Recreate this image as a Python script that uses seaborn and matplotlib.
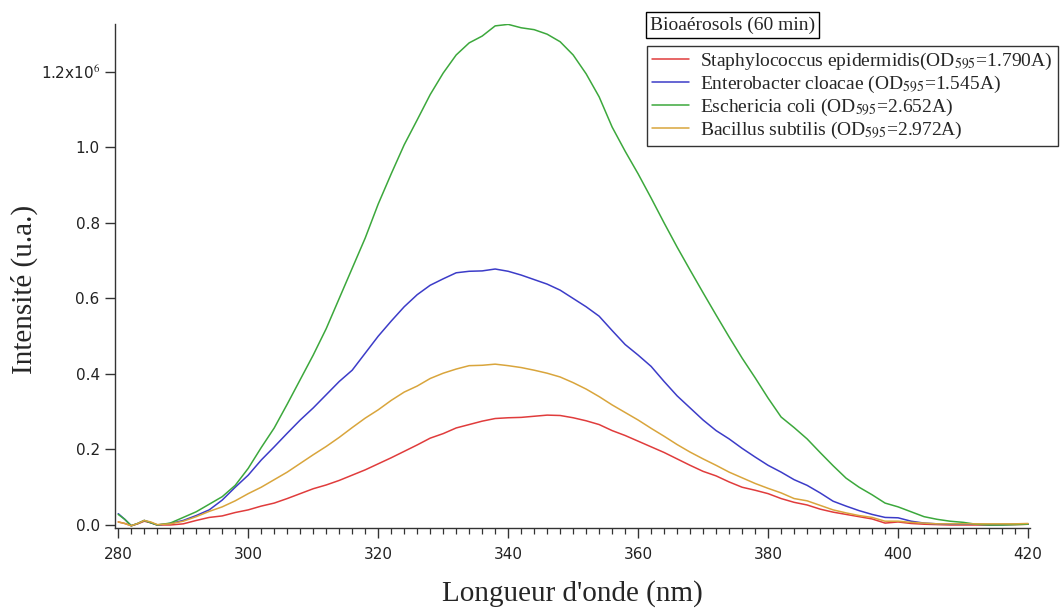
import numpy as np
import pandas as pd
import matplotlib
matplotlib.use("Agg")
import matplotlib.pyplot as plt
from matplotlib.ticker import FixedLocator, FixedFormatter, MultipleLocator
import seaborn as sns

# ---------------- data (intensity in units of 1e6) ----------------
wl = [280, 281, 282, 283, 284, 285, 286, 288, 290, 292, 294, 296, 298,
      300, 302, 304, 306, 308, 310, 312, 314, 316, 318, 320, 322, 324,
      326, 328, 330, 332, 334, 336, 338, 340, 342, 344, 346, 348, 350,
      352, 354, 356, 358, 360, 362, 364, 366, 368, 370, 372, 374, 376,
      378, 380, 382, 384, 386, 388, 390, 392, 394, 396, 398, 400, 402,
      404, 406, 408, 410, 412, 414, 416, 418, 420]

staph = [0.008, 0.004, -0.002, 0.003, 0.010, 0.006, 0.000, 0.000, 0.003, 0.012,
         0.020, 0.024, 0.033, 0.040, 0.050, 0.058, 0.070, 0.083, 0.096, 0.106,
         0.118, 0.132, 0.146, 0.162, 0.178, 0.195, 0.212, 0.230, 0.242, 0.257,
         0.266, 0.275, 0.282, 0.284, 0.285, 0.288, 0.291, 0.290, 0.284, 0.276,
         0.266, 0.250, 0.237, 0.222, 0.207, 0.192, 0.175, 0.158, 0.142, 0.130,
         0.114, 0.100, 0.092, 0.083, 0.070, 0.060, 0.053, 0.042, 0.034, 0.028,
         0.022, 0.016, 0.005, 0.008, 0.004, 0.002, 0.001, 0.000, 0.000, 0.000,
         0.000, 0.001, 0.001, 0.002]

entero = [0.030, 0.015, -0.002, 0.004, 0.012, 0.006, 0.000, 0.004, 0.012, 0.025,
          0.040, 0.066, 0.100, 0.132, 0.172, 0.207, 0.243, 0.278, 0.310, 0.345,
          0.380, 0.410, 0.455, 0.500, 0.540, 0.578, 0.610, 0.635, 0.652, 0.668,
          0.672, 0.673, 0.678, 0.672, 0.662, 0.650, 0.638, 0.622, 0.600, 0.578,
          0.553, 0.515, 0.478, 0.450, 0.420, 0.380, 0.342, 0.310, 0.278, 0.250,
          0.228, 0.203, 0.180, 0.158, 0.140, 0.120, 0.105, 0.085, 0.063, 0.050,
          0.038, 0.028, 0.020, 0.019, 0.010, 0.005, 0.003, 0.002, 0.002, 0.002,
          0.001, 0.001, 0.002, 0.002]

ecoli = [0.028, 0.015, -0.002, 0.004, 0.012, 0.006, 0.000, 0.005, 0.020, 0.035,
         0.055, 0.075, 0.105, 0.150, 0.205, 0.257, 0.320, 0.385, 0.450, 0.520,
         0.600, 0.680, 0.760, 0.850, 0.930, 1.007, 1.073, 1.140, 1.197, 1.245,
         1.277, 1.295, 1.322, 1.326, 1.317, 1.312, 1.300, 1.280, 1.245, 1.195,
         1.134, 1.054, 0.990, 0.930, 0.866, 0.800, 0.736, 0.675, 0.615, 0.556,
         0.498, 0.442, 0.390, 0.336, 0.286, 0.258, 0.228, 0.192, 0.157, 0.124,
         0.100, 0.080, 0.058, 0.048, 0.035, 0.022, 0.015, 0.010, 0.007, 0.002,
         0.000, 0.000, 0.001, 0.002]

bacillus = [0.008, 0.004, -0.002, 0.004, 0.012, 0.008, 0.001, 0.003, 0.010, 0.022,
            0.036, 0.048, 0.064, 0.083, 0.100, 0.120, 0.140, 0.163, 0.186, 0.208,
            0.232, 0.258, 0.283, 0.305, 0.330, 0.352, 0.368, 0.388, 0.402, 0.413,
            0.422, 0.423, 0.426, 0.422, 0.417, 0.410, 0.402, 0.392, 0.377, 0.360,
            0.340, 0.318, 0.298, 0.278, 0.256, 0.235, 0.213, 0.193, 0.175, 0.158,
            0.140, 0.125, 0.110, 0.097, 0.085, 0.070, 0.064, 0.052, 0.040, 0.032,
            0.025, 0.020, 0.010, 0.010, 0.007, 0.005, 0.003, 0.003, 0.003, 0.003,
            0.003, 0.003, 0.003, 0.004]

series_labels = [
    "Staphylococcus epidermidis(OD$_{595}$=1.790A)",
    "Enterobacter cloacae (OD$_{595}$=1.545A)",
    "Eschericia coli (OD$_{595}$=2.652A)",
    "Bacillus subtilis (OD$_{595}$=2.972A)",
]
series_colors = ["#e03c3c", "#3c3cc8", "#3ca83c", "#d9a53c"]

ytick_vals = [0.0, 0.2, 0.4, 0.6, 0.8, 1.0, 1.2]
ytick_labels = ["0.0", "0.2", "0.4", "0.6", "0.8", "1.0", r"1.2x10$^{6}$"]
xtick_vals = [280, 300, 320, 340, 360, 380, 400, 420]

title_box = "Bioaérosols (60 min)"
xlabel = "Longueur d'onde (nm)"
ylabel = "Intensité (u.a.)"

# ---------------- build frame ----------------
rows = []
for lab, vals in zip(series_labels, [staph, entero, ecoli, bacillus]):
    for w, v in zip(wl, vals):
        rows.append({"wl": w, "I": v * 1e6, "serie": lab})
df = pd.DataFrame(rows)

sns.set_style("ticks")
plt.rcParams["font.family"] = ["DejaVu Sans"]
plt.rcParams["mathtext.fontset"] = "stix"

fig = plt.figure(figsize=(10.6, 6.08), dpi=100)
ax = fig.add_axes([115 / 1060, 1 - 528 / 608, (1030 - 115) / 1060, (528 - 24) / 608])

sns.lineplot(data=df, x="wl", y="I", hue="serie", hue_order=series_labels,
             palette=series_colors, linewidth=1.1, ax=ax, legend=False)

ax.set_xlim(279.5, 420.3)
ax.set_ylim(-0.008e6, 1.327e6)

ax.xaxis.set_major_locator(FixedLocator(xtick_vals))
ax.xaxis.set_minor_locator(MultipleLocator(2))
ax.yaxis.set_major_locator(FixedLocator([v * 1e6 for v in ytick_vals]))
ax.yaxis.set_major_formatter(FixedFormatter(ytick_labels))
ax.xaxis.set_major_formatter(FixedFormatter([str(v) for v in xtick_vals]))

for s in ["top", "right"]:
    ax.spines[s].set_visible(False)
for s in ["left", "bottom"]:
    ax.spines[s].set_color("#333333")
    ax.spines[s].set_linewidth(1.0)

ax.tick_params(axis="both", which="major", direction="out", length=7, width=1.0,
               color="#333333", labelsize=11, labelcolor="#222222", pad=4)
ax.tick_params(axis="x", which="minor", direction="out", length=4, width=0.9,
               color="#333333")
ax.tick_params(axis="x", which="major", pad=7)

serif = ["Liberation Serif", "DejaVu Serif"]
ax.set_xlabel(xlabel, fontsize=21, family=serif)
ax.set_ylabel(ylabel, fontsize=21, family=serif)
ax.xaxis.set_label_coords(0.5, -0.104)
ax.yaxis.set_label_coords(-0.084, 0.474)

# title box
fig.text(650 / 1060, 1 - 25 / 608, title_box, fontsize=14, family=serif,
         va="center", ha="left",
         bbox=dict(boxstyle="square,pad=0.22", fc="white", ec="black", lw=1.0))

handles = [plt.Line2D([], [], color=c, lw=1.1) for c in series_colors]
leg = fig.legend(handles, series_labels, loc="upper left",
                 bbox_to_anchor=(647 / 1060, 1 - 46 / 608),
                 prop={"family": serif, "size": 14},
                 frameon=True, fancybox=False, edgecolor="black",
                 handlelength=1.9, handletextpad=0.6, labelspacing=0.1,
                 borderpad=0.25, borderaxespad=0.0)
leg.get_frame().set_linewidth(1.0)

fig.savefig("out.png", dpi=100)
